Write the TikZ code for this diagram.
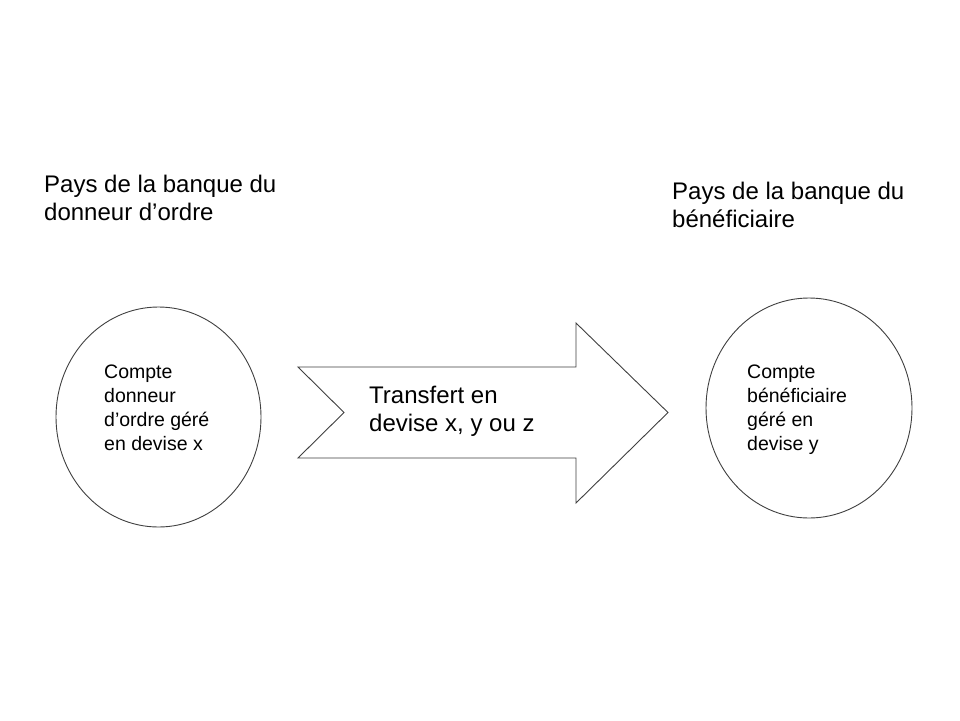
\documentclass[tikz,border=0pt]{standalone}
\usepackage{fontspec}
\setmainfont{Liberation Sans}
\usetikzlibrary{shapes.geometric}
\tikzset{
  account/.style={draw=black!75, line width=0.9pt, ellipse, inner sep=0pt},
  title/.style={anchor=base west, align=left, inner sep=0pt, font=\fontsize{24}{27.5}\selectfont},
  inner/.style={anchor=base west, align=left, inner sep=0pt, font=\fontsize{19.5}{24}\selectfont},
  arrowtxt/.style={anchor=base west, align=left, inner sep=0pt, font=\fontsize{24}{28.5}\selectfont},
  bigarrow/.style={draw=black!75, line width=0.9pt, line join=miter}
}
\begin{document}
\begin{tikzpicture}[x=1pt,y=-1pt]
\useasboundingbox[fill=white] (0,0) rectangle (960,720);
% arrow
\coordinate (a1) at (298,367);
\coordinate (a2) at (576,367);
\coordinate (a3) at (576,323);
\coordinate (a4) at (668,412.5);
\coordinate (a5) at (576,503);
\coordinate (a6) at (576,458);
\coordinate (a7) at (298,458);
\coordinate (a8) at (344,412.5);
\draw[bigarrow] (a1) -- (a2) -- (a3) -- (a4) -- (a5) -- (a6) -- (a7) -- (a8) -- cycle;
% circles
\node[account, minimum width=205pt, minimum height=220pt] (left) at (158.5,417) {};
\node[account, minimum width=206pt, minimum height=220pt] (right) at (809,408) {};
% titles (anchored at the baseline of the last line)
\node[title] (tleft) at (44,220) {Pays de la banque du\\donneur d’ordre};
\node[title] (tright) at (672,227) {Pays de la banque du\\bénéficiaire};
% inner texts
\node[inner] (ileft) at (104,450) {Compte\\donneur\\d’ordre géré\\en devise x};
\node[inner] (iright) at (747,450) {Compte\\bénéficiaire\\géré en\\devise y};
\node[arrowtxt] (tarrow) at (369,431.5) {Transfert en\\devise x, y ou z};
\end{tikzpicture}
\end{document}
